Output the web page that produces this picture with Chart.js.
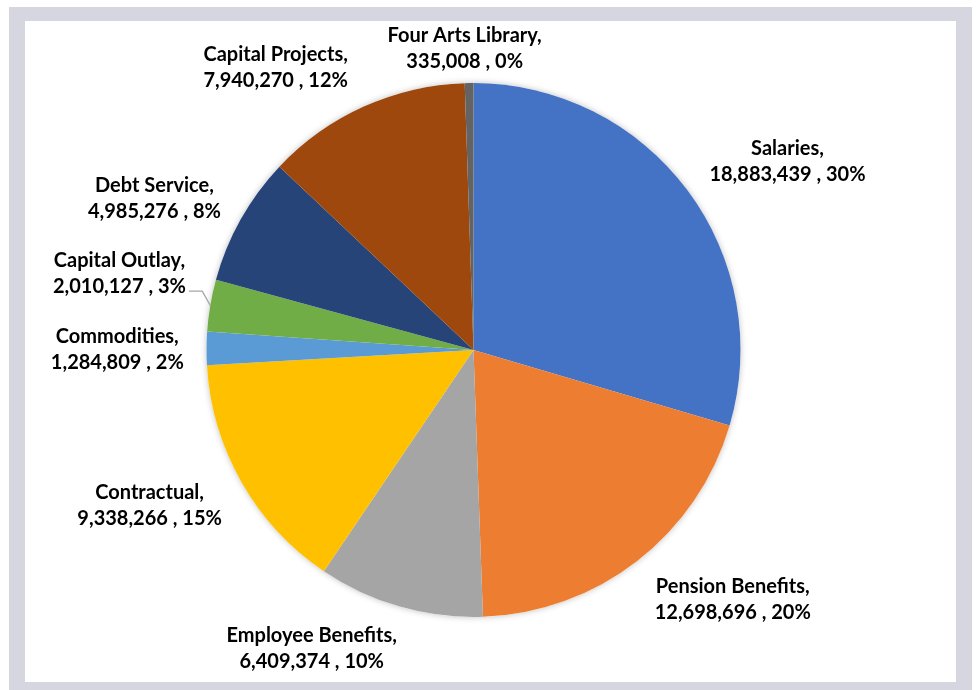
<!DOCTYPE html>
<html>
<head>
<meta charset="utf-8">
<script src="https://cdn.jsdelivr.net/npm/chart.js@4.4.1/dist/chart.umd.min.js"></script>
<style>
	html, body { margin: 0; background: #fff; }
	#frame { position: absolute; left: 9px; top: 7px; width: 963px; height: 683px; background: #d6d6e0; }
	#panel { position: absolute; left: 16px; top: 14px; width: 931px; height: 661px; background: #fff; }
</style>
</head>
<body>
<div id="frame"><div id="panel"><canvas id="pie"></canvas></div></div>
<script>
const categories = ["Salaries", "Pension Benefits", "Employee Benefits", "Contractual", "Commodities",
	"Capital Outlay", "Debt Service", "Capital Projects", "Four Arts Library"];
const values = [18883439, 12698696, 6409374, 9338266, 1284809, 2010127, 4985276, 7940270, 335008];
const pctLabels = [30, 20, 10, 15, 2, 3, 8, 12, 0];

const colors = ["#4472c4", "#ed7d31", "#a5a5a5", "#ffc000", "#5b9bd5", "#70ad47", "#264478", "#9e480e", "#636363"];
// label centre, in units of the pie radius from the pie centre
const labelOffset = [[1.176, -0.704], [0.971, 0.936], [-0.606, 1.120], [-1.213, 0.581], [-1.334, 0.000],
	[-1.326, -0.288], [-1.195, -0.569], [-0.741, -1.059], [-0.033, -1.130]];
const leaders = ["Capital Outlay"];

const fmt = v => v.toLocaleString("en-US");

const shadowPlugin = {
	id: "pieShadow",
	beforeDatasetsDraw(chart) {
		const arc = chart.getDatasetMeta(0).data[0];
		const ctx = chart.ctx;
		ctx.save();
		ctx.shadowColor = "rgba(0,0,0,0.25)";
		ctx.shadowBlur = 6;
		ctx.fillStyle = "#fff";
		ctx.beginPath();
		ctx.arc(arc.x, arc.y, arc.outerRadius, 0, Math.PI * 2);
		ctx.fill();
		ctx.restore();
	}
};

const labelPlugin = {
	id: "sliceLabels",
	afterDatasetsDraw(chart) {
		const ctx = chart.ctx;
		ctx.save();
		ctx.font = "bold 20px Lato";
		ctx.fillStyle = "#000";
		ctx.textAlign = "center";
		ctx.textBaseline = "middle";
		chart.getDatasetMeta(0).data.forEach((arc, i) => {
			const r = arc.outerRadius;
			const x = arc.x + labelOffset[i][0] * r;
			const y = arc.y + labelOffset[i][1] * r;
			const line2 = fmt(values[i]) + " , " + pctLabels[i] + "%";
			ctx.fillText(categories[i] + ",", x, y - 13);
			ctx.fillText(line2, x, y + 13);

			if (leaders.includes(categories[i])) {
				const a = (arc.startAngle + arc.endAngle) / 2;
				const ex = arc.x + Math.cos(a) * r;
				const ey = arc.y + Math.sin(a) * r;
				const sx = x + ctx.measureText(line2).width / 2 + 3;
				ctx.strokeStyle = "#a6a6a6";
				ctx.lineWidth = 1.3;
				ctx.beginPath();
				ctx.moveTo(sx, y + 18);
				ctx.lineTo(ex - 8, y + 18);
				ctx.lineTo(ex, ey);
				ctx.stroke();
			}
		});
		ctx.restore();
	}
};

window.addEventListener("load", () => {
	new Chart(document.getElementById("pie"), {
		type: "pie",
		data: {
			labels: categories,
			datasets: [{
				data: values,
				backgroundColor: colors,
				borderWidth: 0,
				hoverOffset: 0
			}]
		},
		options: {
			responsive: true,
			maintainAspectRatio: false,
			animation: false,
			layout: { padding: { left: 181, right: 215, top: 62, bottom: 65 } },
			plugins: {
				legend: { display: false },
				tooltip: { enabled: false }
			},
			events: []
		},
		plugins: [shadowPlugin, labelPlugin]
	});
});
</script>
</body>
</html>
